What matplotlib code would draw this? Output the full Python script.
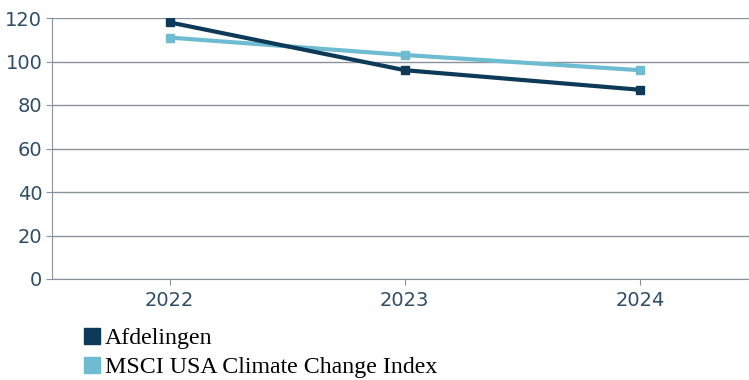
import numpy as np
import matplotlib.pyplot as plt
from matplotlib.lines import Line2D

plt.rcParams['font.family'] = ['DejaVu Sans']

years = ['2022', '2023', '2024']
afdelingen = [118, 96, 87]
msci = [111, 103, 96]
yticks = [0, 20, 40, 60, 80, 100, 120]

dark = '#0c3a58'
light = '#6dbcd1'
tickcol = '#2f4d66'
gridcol = '#8a9299'

fig = plt.figure(figsize=(7.49, 3.80), dpi=100)
W, H = 749, 380
# axes: left 52px, top 18px, bottom 279px; 235px per category
ax = fig.add_axes([52/W, (H-279)/H, 705.5/W, (279-18)/H])

x = np.arange(len(years))
ax.plot(x, msci, color=light, lw=3, marker='s', ms=6, zorder=3)
ax.plot(x, afdelingen, color=dark, lw=3, marker='s', ms=6, zorder=4)

ax.set_xlim(-0.5, 2.5)
ax.set_ylim(0, 120)
ax.set_yticks(yticks)
ax.set_xticks(x)
ax.set_xticklabels(years)
ax.yaxis.grid(True, color=gridcol, lw=1)
ax.set_axisbelow(True)
for s in ['top', 'right']:
    ax.spines[s].set_visible(False)
for s in ['left', 'bottom']:
    ax.spines[s].set_color(gridcol)
ax.tick_params(axis='both', colors=gridcol, labelcolor=tickcol, labelsize=14, length=4)
ax.tick_params(axis='y', pad=3)
ax.tick_params(axis='x', pad=5)

handles = [Line2D([], [], ls='none', marker='s', ms=11.5, color=dark),
           Line2D([], [], ls='none', marker='s', ms=11.5, color=light)]
fig.legend(handles, ['Afdelingen', 'MSCI USA Climate Change Index'],
           loc='upper left', bbox_to_anchor=(70/W, 1 - 318/H), frameon=False,
           prop={'family': 'Liberation Serif', 'size': 17.2},
           handletextpad=0.05, labelspacing=0.3, borderaxespad=0, handlelength=1.0)

fig.savefig('out.png', dpi=100)
